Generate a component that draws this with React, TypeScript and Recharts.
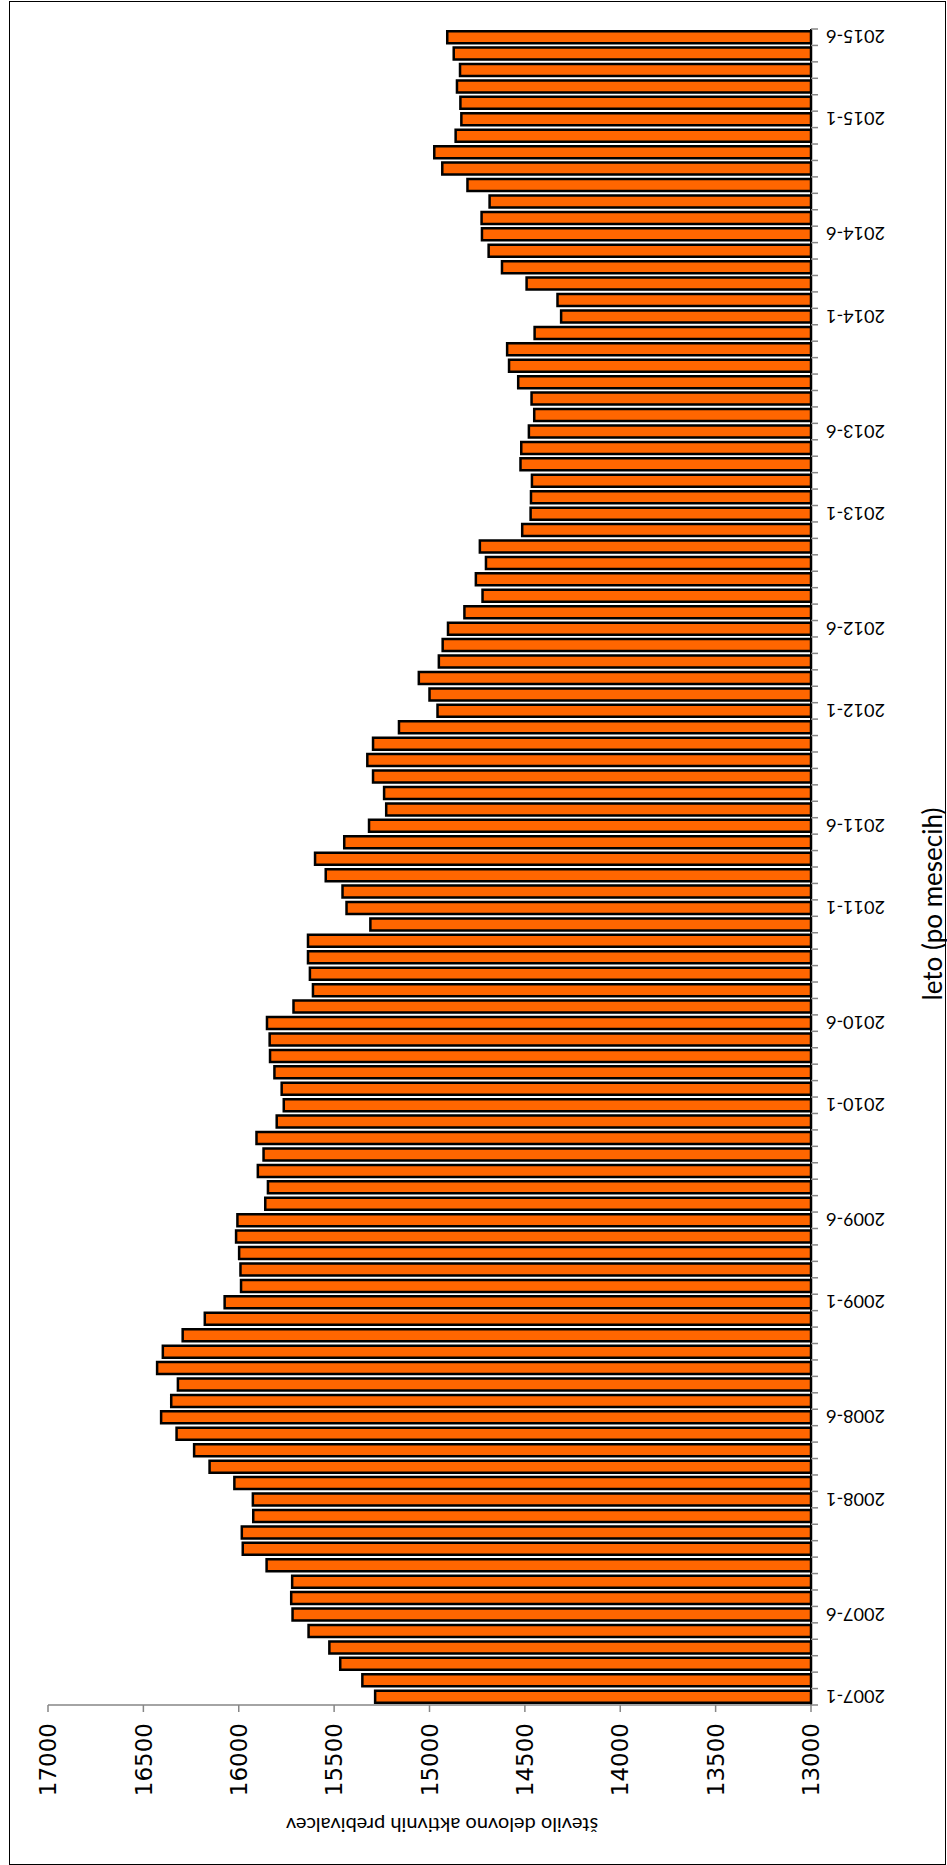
import { BarChart, Bar, XAxis, YAxis } from "recharts";

// employed persons per month (rounded readings)
const Y2007 = [15285, 15352, 15468, 15525, 15634, 15718, 15725, 15720, 15854, 15979, 15984, 15924];
const Y2008 = [15926, 16023, 16153, 16234, 16326, 16407, 16354, 16319, 16428, 16398, 16294, 16178];
const Y2009 = [16074, 15988, 15991, 15998, 16014, 16007, 15861, 15847, 15900, 15870, 15907, 15801];
const Y2010 = [15764, 15775, 15813, 15836, 15838, 15852, 15713, 15611, 15627, 15637, 15637, 15310];
const Y2011 = [15435, 15456, 15544, 15600, 15447, 15317, 15227, 15238, 15296, 15326, 15296, 15160];
const Y2012 = [14958, 15000, 15056, 14951, 14931, 14903, 14817, 14722, 14757, 14704, 14736, 14514];
const Y2013 = [14470, 14468, 14463, 14523, 14519, 14479, 14451, 14465, 14535, 14583, 14593, 14449];
const Y2014 = [14310, 14329, 14491, 14620, 14690, 14725, 14727, 14685, 14801, 14933, 14975, 14863];
const Y2015 = [14833, 14838, 14856, 14840, 14873, 14907];

const YEARS = [2007, 2008, 2009, 2010, 2011, 2012, 2013, 2014, 2015];
const SERIES = [Y2007, Y2008, Y2009, Y2010, Y2011, Y2012, Y2013, Y2014, Y2015];

const TICK_LABELS = [
  "2007-1", "2007-6", "2008-1", "2008-6", "2009-1", "2009-6", "2010-1", "2010-6",
  "2011-1", "2011-6", "2012-1", "2012-6", "2013-1", "2013-6", "2014-1", "2014-6",
  "2015-1", "2015-6",
];
const VALUE_TICKS = [13000, 13500, 14000, 14500, 15000, 15500, 16000, 16500, 17000];

const data = YEARS.flatMap((year, i) =>
  SERIES[i].map((value, m) => ({ label: `${year}-${m + 1}`, value }))
);

// chart is drawn as a column chart, then turned a quarter to the left
const W = 1865;
const H = 947;
const MARGIN = { top: 48, right: 29, bottom: 0, left: 0 };
const Y_AXIS_W = 160;
const X_AXIS_H = 136;
const BAND = (W - MARGIN.left - MARGIN.right - Y_AXIS_W) / data.length;

const labelFont = "Lato, 'Open Sans', sans-serif";

function CategoryTick(props: any) {
  const { x, y, payload, index } = props;
  const half = BAND / 2;
  const show = TICK_LABELS.includes(payload.value);
  return (
    <g>
      <line x1={x - half} x2={x - half} y1={y} y2={y + 7} stroke="#868686" strokeWidth={1.5} />
      {index === data.length - 1 && (
        <line x1={x + half} x2={x + half} y1={y} y2={y + 7} stroke="#868686" strokeWidth={1.5} />
      )}
      {show && (
        <text
          transform={`translate(${x},${y + 15}) rotate(-90)`}
          textAnchor="end"
          dominantBaseline="central"
          fontSize={18}
          fontFamily={labelFont}
          fill="#000"
        >
          {payload.value}
        </text>
      )}
    </g>
  );
}

export default function App() {
  return (
    <div
      style={{
        position: "absolute",
        left: 0,
        top: 0,
        width: H,
        height: W,
        overflow: "hidden",
        background: "#fff",
      }}
    >
      <div
        style={{
          position: "absolute",
          left: 0,
          top: W,
          width: W,
          height: H,
          transform: "rotate(-90deg)",
          transformOrigin: "0 0",
        }}
      >
        <BarChart width={W} height={H} data={data} margin={MARGIN} barCategoryGap="14%">
          <XAxis
            dataKey="label"
            interval={0}
            height={X_AXIS_H}
            tickSize={0}
            tickMargin={0}
            tickLine={false}
            axisLine={{ stroke: "#000", strokeWidth: 2 }}
            tick={<CategoryTick />}
          />
          <YAxis
            type="number"
            domain={[13000, 17000]}
            ticks={VALUE_TICKS}
            width={Y_AXIS_W}
            tickSize={7}
            tickMargin={11}
            axisLine={{ stroke: "#868686", strokeWidth: 1.5 }}
            tickLine={{ stroke: "#868686", strokeWidth: 1.5 }}
            tick={{ fontSize: 23, fill: "#000", fontFamily: "'DejaVu Sans', sans-serif" }}
          />
          <Bar
            dataKey="value"
            fill="#FF6600"
            stroke="#000"
            strokeWidth={2.5}
            isAnimationActive={false}
          />
        </BarChart>
        <div
          style={{
            position: "absolute",
            left: 39,
            top: 442,
            transform: "translate(-50%, -50%) rotate(-90deg)",
            whiteSpace: "nowrap",
            fontFamily: labelFont,
            fontSize: 20,
            color: "#000",
          }}
        >
          število delovno aktivnih prebivalcev
        </div>
        <div
          style={{
            position: "absolute",
            left: 961,
            top: 932,
            transform: "translate(-50%, -50%)",
            whiteSpace: "nowrap",
            fontFamily: labelFont,
            fontSize: 26,
            color: "#000",
          }}
        >
          leto (po mesecih)
        </div>
        <div
          style={{
            position: "absolute",
            left: 0,
            top: 9,
            width: W - 1,
            height: H - 10,
            border: "1px solid #000",
            boxSizing: "border-box",
            pointerEvents: "none",
          }}
        />
      </div>
    </div>
  );
}
